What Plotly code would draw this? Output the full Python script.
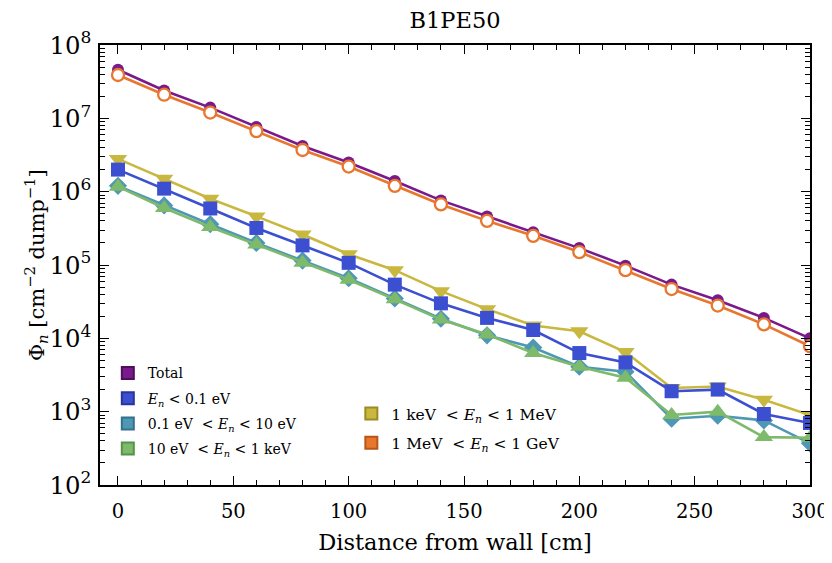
import plotly.graph_objects as go

distance = [0, 20, 40, 60, 80, 100, 120, 140, 160, 180, 200, 220, 240, 260, 280, 300]

total = [4.6e7, 2.4e7, 1.4e7, 7.6e6, 4.2e6, 2.5e6, 1.4e6, 7.6e5, 4.6e5, 2.8e5, 1.7e5, 9.8e4, 5.4e4, 3.3e4, 1.9e4, 1.0e4]
fast = [3.9e7, 2.1e7, 1.2e7, 6.7e6, 3.7e6, 2.2e6, 1.2e6, 6.7e5, 4.0e5, 2.5e5, 1.5e5, 8.5e4, 4.7e4, 2.8e4, 1.55e4, 7.8e3]
kev_mev = [2.8e6, 1.5e6, 8.0e5, 4.6e5, 2.6e5, 1.4e5, 8.5e4, 4.4e4, 2.5e4, 1.5e4, 1.25e4, 6.5e3, 2.1e3, 2.2e3, 1.45e3, 9.0e2]
thermal = [2.0e6, 1.1e6, 5.9e5, 3.2e5, 1.85e5, 1.07e5, 5.4e4, 3.0e4, 1.9e4, 1.3e4, 6.3e3, 4.7e3, 1.9e3, 2.0e3, 9.3e2, 7.0e2]
epi_low = [1.2e6, 6.5e5, 3.6e5, 2.0e5, 1.15e5, 6.6e4, 3.5e4, 1.85e4, 1.1e4, 7.5e3, 4.1e3, 3.5e3, 8.0e2, 8.8e2, 7.6e2, 3.7e2]
epi_mid = [1.17e6, 6.0e5, 3.3e5, 1.9e5, 1.07e5, 6.3e4, 3.4e4, 1.8e4, 1.13e4, 6.3e3, 4.1e3, 2.9e3, 9.0e2, 1.0e3, 4.5e2, 4.4e2]

x_ticks = [0, 50, 100, 150, 200, 250, 300]

names = {
    "total": "Total",
    "thermal": "<i>E</i><sub><i>n</i></sub> &lt; 0.1 eV",
    "epi_low": "0.1 eV  &lt; <i>E</i><sub><i>n</i></sub> &lt; 10 eV",
    "epi_mid": "10 eV  &lt; <i>E</i><sub><i>n</i></sub> &lt; 1 keV",
    "kev_mev": "1 keV  &lt; <i>E</i><sub><i>n</i></sub> &lt; 1 MeV",
    "fast": "1 MeV  &lt; <i>E</i><sub><i>n</i></sub> &lt; 1 GeV",
}

colors = {
    "total": "#7a1a8a",
    "thermal": "#3b4fd0",
    "epi_low": "#4f98b4",
    "epi_mid": "#7dba6c",
    "kev_mev": "#c9b840",
    "fast": "#e8762d",
}
edge = {
    "total": "#4e0f5a",
    "thermal": "#27369a",
    "epi_low": "#34718a",
    "epi_mid": "#57924a",
    "kev_mev": "#9a8b22",
    "fast": "#b8561a",
}

fig = go.Figure()

def add_series(key, y, symbol, size, open_marker=False):
    c = colors[key]
    if open_marker:
        marker = dict(symbol=symbol, size=size, color="white", line=dict(color=c, width=2.3))
    else:
        marker = dict(symbol=symbol, size=size, color=c, line=dict(width=0))
    fig.add_trace(go.Scatter(x=distance, y=y, mode="lines+markers", name=names[key],
                             line=dict(color=c, width=2.6), marker=marker, showlegend=False,
                             cliponaxis=True))

add_series("total", total, "circle", 12)
add_series("fast", fast, "circle", 12, open_marker=True)
add_series("kev_mev", kev_mev, "triangle-down", 16)
add_series("epi_low", epi_low, "diamond", 14)
add_series("epi_mid", epi_mid, "triangle-up", 16)
add_series("thermal", thermal, "square", 14)

legend_map = [("total", "legend"), ("thermal", "legend"), ("epi_low", "legend"), ("epi_mid", "legend"),
              ("kev_mev", "legend2"), ("fast", "legend2")]
for key, lg in legend_map:
    fig.add_trace(go.Scatter(x=[None], y=[None], mode="markers", name=names[key],
                             marker=dict(symbol="square", size=18, color=colors[key],
                                         line=dict(color=edge[key], width=1)),
                             legend=lg, legendgroup=key, showlegend=True))

font_family = "DejaVu Serif"

# the page body adds an 8px margin; the figure is sized so the page fits the window
fig.update_layout(
    width=822, height=547,
    margin=dict(l=92, r=20, t=37, b=70),
    paper_bgcolor="white", plot_bgcolor="white",
    font=dict(family=font_family, color="black"),
    title=dict(text="B1PE50", xref="paper", x=0.5, xanchor="center", y=0.978, yanchor="middle",
               font=dict(size=22.5, family=font_family, color="black")),
    legend=dict(x=0.011, y=0.290, xanchor="left", yanchor="top", bgcolor="rgba(0,0,0,0)",
                font=dict(size=14, family=font_family), tracegroupgap=4, itemsizing="constant"),
    legend2=dict(x=0.354, y=0.200, xanchor="left", yanchor="top", bgcolor="rgba(0,0,0,0)",
                 font=dict(size=15.5, family=font_family), tracegroupgap=6, itemsizing="constant"),
)

fig.update_xaxes(
    range=[-7.8, 300], tickvals=x_ticks, automargin=False, ticklabeloverflow="allow",
    ticks="inside", ticklen=9, tickwidth=1.3, tickcolor="black", ticklabelstandoff=8,
    showline=True, linecolor="black", linewidth=1.6, mirror="ticks",
    showgrid=False, zeroline=False,
    tickfont=dict(size=19.5, family=font_family),
    minor=dict(dtick=10, tick0=0, ticks="inside", ticklen=5, tickwidth=1, tickcolor="black", showgrid=False),
    title=dict(text="Distance from wall [cm]", font=dict(size=22.5, family=font_family), standoff=26),
)

fig.update_yaxes(
    type="log", range=[2, 8], dtick=1, exponentformat="power", automargin=False,
    ticks="inside", ticklen=9, tickwidth=1.3, tickcolor="black", ticklabelstandoff=3,
    showline=True, linecolor="black", linewidth=1.6, mirror="ticks",
    showgrid=False, zeroline=False,
    tickfont=dict(size=19.5, family=font_family),
    minor=dict(dtick="D1", ticks="inside", ticklen=5, tickwidth=1, tickcolor="black", showgrid=False),
)

fig.add_annotation(
    text="Φ<sub><i>n</i></sub> [cm<sup>−2</sup> dump<sup>−1</sup>]",
    xref="paper", yref="paper", x=-0.090, y=0.5, xanchor="center", yanchor="middle",
    textangle=-90, showarrow=False, font=dict(size=21, family=font_family, color="black"),
)

fig.write_html("out.html")
